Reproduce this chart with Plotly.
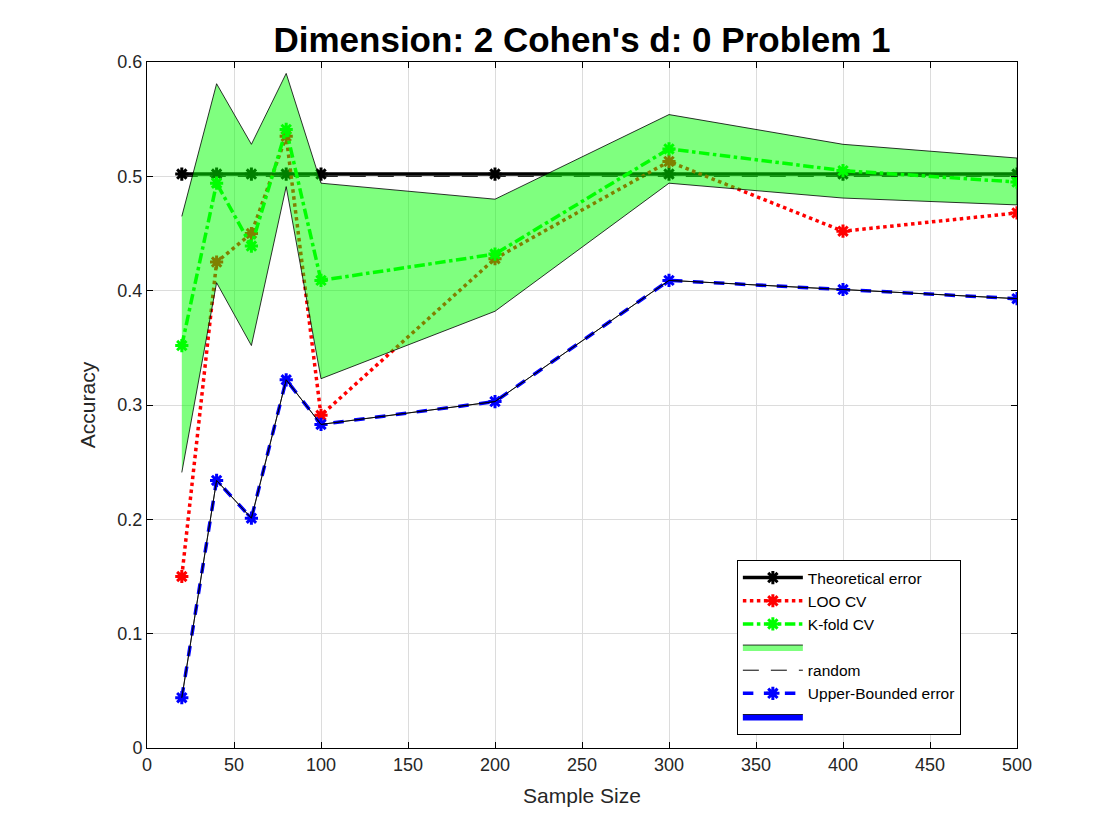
import plotly.graph_objects as go

# sample sizes on the x axis
sizes = [20, 40, 60, 80, 100, 200, 300, 400, 500]

# accuracy curves
theoretical = [0.502] * 9
random_level = [0.5] * 9
loo_cv = [0.150, 0.425, 0.450, 0.535, 0.291, 0.428, 0.513, 0.452, 0.468]
kfold_cv = [0.352, 0.494, 0.439, 0.541, 0.409, 0.432, 0.524, 0.505, 0.495]
kfold_upper = [0.465, 0.581, 0.528, 0.590, 0.494, 0.480, 0.554, 0.528, 0.516]
kfold_lower = [0.241, 0.407, 0.352, 0.491, 0.323, 0.382, 0.494, 0.481, 0.475]
upper_bounded = [0.044, 0.234, 0.201, 0.322, 0.283, 0.303, 0.409, 0.401, 0.393]

x_ticks = list(range(0, 501, 50))
y_ticks = [0, 0.1, 0.2, 0.3, 0.4, 0.5, 0.6]
y_tick_text = ["0", "0.1", "0.2", "0.3", "0.4", "0.5", "0.6"]


def star(color):
    return dict(symbol="asterisk-open", size=11, color=color,
                line=dict(color=color, width=3))


def band(lo, hi):
    return sizes + sizes[::-1], hi + lo[::-1]


fig = go.Figure()

fig.add_trace(go.Scatter(x=sizes, y=theoretical, mode="lines+markers",
                         name="Theoretical error", legendrank=1,
                         line=dict(color="black", width=3.5),
                         marker=star("black")))
fig.add_trace(go.Scatter(x=sizes, y=loo_cv, mode="lines+markers",
                         name="LOO CV", legendrank=2,
                         line=dict(color="red", width=3.5, dash="dot"),
                         marker=star("red")))
fig.add_trace(go.Scatter(x=sizes, y=random_level, mode="lines",
                         name="random", legendrank=5,
                         line=dict(color="black", width=1, dash="16px,12px")))

# shaded k-fold spread, drawn over the black / red lines like the original
bx, by = band(kfold_lower, kfold_upper)
fig.add_trace(go.Scatter(x=bx, y=by, mode="lines", fill="toself",
                         fillcolor="rgba(0,255,0,0.5)", name=" ", legendrank=4,
                         line=dict(color="black", width=0.8)))

fig.add_trace(go.Scatter(x=sizes, y=kfold_cv, mode="lines+markers",
                         name="K-fold CV", legendrank=3,
                         line=dict(color="#00ff00", width=3.5, dash="dashdot"),
                         marker=star("#00ff00")))
fig.add_trace(go.Scatter(x=sizes, y=upper_bounded, mode="lines+markers",
                         name="Upper-Bounded error", legendrank=6,
                         line=dict(color="blue", width=3.5, dash="dash"),
                         marker=star("blue")))

# zero-width band around the upper bound (only its outline shows)
bx, by = band(upper_bounded, upper_bounded)
fig.add_trace(go.Scatter(x=bx, y=by, mode="lines", fill="toself",
                         fillcolor="blue", name="  ", legendrank=7,
                         line=dict(color="black", width=0.8)))

axis_style = dict(showline=True, linecolor="black", linewidth=1, mirror="ticks",
                  ticks="inside", ticklen=6, tickcolor="black",
                  showgrid=True, gridcolor="#dcdcdc", gridwidth=1,
                  zeroline=False,
                  tickfont=dict(family="Liberation Sans", size=18, color="#262626"),
                  title_font=dict(family="Liberation Sans", size=21, color="#262626"))

fig.update_xaxes(range=[0, 500], tickvals=x_ticks, title_text="Sample Size",
                 title_standoff=14, **axis_style)
fig.update_yaxes(range=[0, 0.6], tickvals=y_ticks, ticktext=y_tick_text,
                 title_text="Accuracy", title_standoff=16, **axis_style)

fig.update_layout(
    width=1120, height=840,
    margin=dict(l=139, r=111, t=54, b=100),
    paper_bgcolor="white", plot_bgcolor="white",
    title=dict(text="<b>Dimension: 2 Cohen's d: 0 Problem 1</b>",
               x=0.5125, xanchor="center", y=0.962, yanchor="middle",
               font=dict(family="Liberation Sans", size=35, color="black")),
    legend=dict(x=0.678, y=0.274, xanchor="left", yanchor="top",
                bgcolor="white", bordercolor="black", borderwidth=1,
                font=dict(family="Liberation Sans", size=15.5, color="black"),
                tracegroupgap=0, itemwidth=60),
    showlegend=True,
)

fig.write_html("out.html")
